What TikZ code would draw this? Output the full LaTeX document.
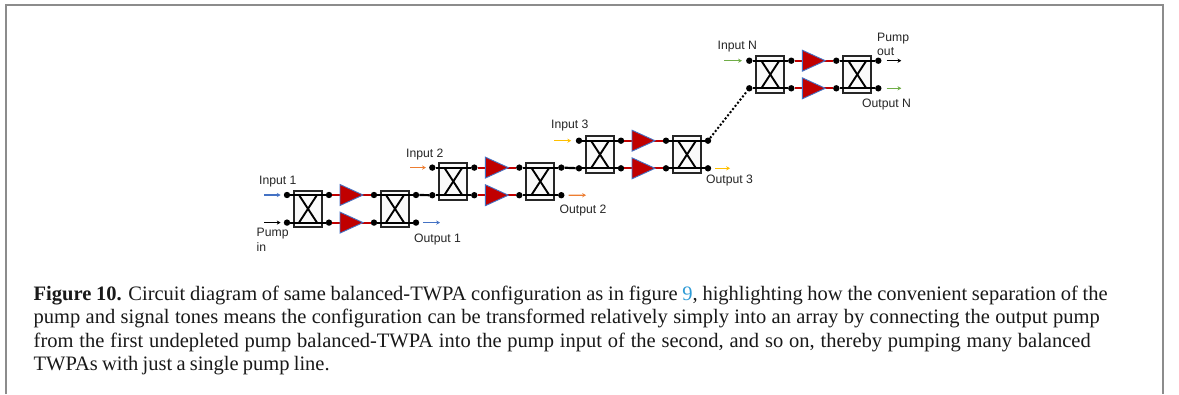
\documentclass[tikz,border=0pt]{standalone}
\usepackage{fontspec}
\setmainfont{Liberation Sans}
\newfontfamily\capfont{Liberation Serif}
\usetikzlibrary{arrows.meta,calc}
\definecolor{sigblue}{HTML}{4472C4}
\definecolor{sigorange}{HTML}{ED7D31}
\definecolor{sigyellow}{HTML}{FFC000}
\definecolor{siggreen}{HTML}{70AD47}
\definecolor{ampred}{HTML}{C00000}
\definecolor{linkblue}{HTML}{2E9BD6}
\tikzset{
  dotnode/.style={circle,fill=black,inner sep=0pt,minimum size=6.4pt},
  wire/.style={line width=2.2pt,black},
  xwire/.style={line width=1.9pt,black},
  redwire/.style={line width=2.2pt,ampred},
  boxnode/.style={draw=black!85,fill=black!2,line width=2pt,minimum width=28pt,minimum height=36.6pt,inner sep=0pt},
  ampshape/.style={draw=sigblue,fill=ampred,line width=0.9pt,line join=miter},
  sigarrow/.style={line width=1.1pt,-{Stealth[length=3.8pt,width=4.2pt]}},
  lab/.style={font=\fontsize{12.2}{14.5}\selectfont,inner sep=0pt,anchor=west,text=black!85},
  capline/.style={font=\capfont\fontsize{20.5}{24}\selectfont,inner sep=0pt,anchor=base west,text=black!90},
}
% #1 prefix, #2 x of first dot, #3 y of top rail
\newcommand{\twpastage}[3]{%
  \coordinate (#1o) at (#2,#3);
  \path (#1o) ++(21,13.8) node[boxnode] (#1L) {};
  \path (#1o) ++(108,13.8) node[boxnode] (#1R) {};
  \path (#1o) node[dotnode] (#1a) {}
        ++(42,0) node[dotnode] (#1b) {}
        ++(45,0) node[dotnode] (#1c) {}
        ++(42,0) node[dotnode] (#1d) {};
  \path (#1o) ++(0,27.6) node[dotnode] (#1e) {}
        ++(42,0) node[dotnode] (#1f) {}
        ++(45,0) node[dotnode] (#1g) {}
        ++(42,0) node[dotnode] (#1h) {};
  \draw[wire] (#1a) -- (#1b);
  \draw[wire] (#1e) -- (#1f);
  \draw[wire] (#1c) -- (#1d);
  \draw[wire] (#1g) -- (#1h);
  \draw[xwire] ($(#1a)+(12,0)$) -- ($(#1f)+(-12,0)$);
  \draw[xwire] ($(#1e)+(12,0)$) -- ($(#1b)+(-12,0)$);
  \draw[xwire] ($(#1c)+(12,0)$) -- ($(#1h)+(-12,0)$);
  \draw[xwire] ($(#1g)+(12,0)$) -- ($(#1d)+(-12,0)$);
  \draw[redwire] (#1b) -- (#1c);
  \draw[redwire] (#1f) -- (#1g);
  \path (#1o) ++(53,-10.5) coordinate (#1p1) ++(0,21) coordinate (#1p2) ++(23,-10.5) coordinate (#1p3);
  \path (#1o) ++(53,17.1) coordinate (#1q1) ++(0,21) coordinate (#1q2) ++(23,-10.5) coordinate (#1q3);
  \draw[ampshape] (#1p1) -- (#1p2) -- (#1p3) -- cycle;
  \draw[ampshape] (#1q1) -- (#1q2) -- (#1q3) -- cycle;
}
\begin{document}
\begin{tikzpicture}[x=1pt,y=-1pt]
\useasboundingbox (0,0) rectangle (1179,394);
\fill[white] (0,0) rectangle (1179,394);
\draw[black!45,line width=2pt] (6,394) -- (6,5) -- (1163,5) -- (1163,394);

\twpastage{A}{287}{195}
\twpastage{B}{432.3}{167.6}
\twpastage{C}{579}{140.7}
\twpastage{N}{749.3}{60.7}

\draw[wire] (Ad) -- (Be);
\draw[wire] (Bd) -- (Ce);
\draw[line width=2pt,dotted] (Cd) -- (Ne);

% input arrows
\coordinate (i1) at (264,195);   \draw[sigarrow,sigblue,shorten >=3pt] (i1) -- (Aa);
\coordinate (ip) at (264,222.6); \draw[sigarrow,black,shorten >=3pt] (ip) -- (Ae);
\coordinate (i2) at (410,167.6); \draw[sigarrow,sigorange,shorten >=3pt] (i2) -- (Ba);
\coordinate (i3) at (554,140.7); \draw[sigarrow,sigyellow,shorten >=4.5pt] (i3) -- (Ca);
\coordinate (iN) at (724,60.7);  \draw[sigarrow,siggreen,shorten >=4pt] (iN) -- (Na);
% output arrows
\coordinate (o1) at (440,222.6); \draw[sigarrow,sigblue,shorten <=3.5pt] (Ah) -- (o1);
\coordinate (o2) at (586,195.2); \draw[sigarrow,sigorange,shorten <=4pt] (Bh) -- (o2);
\coordinate (o3) at (730,168.3); \draw[sigarrow,sigyellow,shorten <=4pt] (Ch) -- (o3);
\coordinate (oP) at (901.3,60.7);\draw[sigarrow,black,shorten <=5pt] (Nd) -- (oP);
\coordinate (oN) at (901.3,88.3);\draw[sigarrow,siggreen,shorten <=5pt] (Nh) -- (oN);

% labels
\node[lab] (tI1) at (259,181.7) {Input 1};
\node[lab,align=left,font=\fontsize{12.2}{14.7}\selectfont] (tP) at (256.5,240) {Pump\\in};
\node[lab] (tO1) at (414,240) {Output 1};
\node[lab] (tI2) at (406,154.7) {Input 2};
\node[lab] (tO2) at (559.5,211) {Output 2};
\node[lab] (tI3) at (551,125.5) {Input 3};
\node[lab] (tO3) at (706,181) {Output 3};
\node[lab] (tIN) at (717.5,46.5) {Input N};
\node[lab,align=left,font=\fontsize{12.2}{14.7}\selectfont] (tPo) at (877,44.5) {Pump\\out};
\node[lab] (tON) at (862,105) {Output N};

% caption
\node[capline] (c1) at (33.5,300) {\makebox[1074pt][s]{\textbf{Figure 10.} Circuit diagram of same balanced-TWPA configuration as in figure \textcolor{linkblue}{9}, highlighting how the convenient separation of the}};
\node[capline] (c2) at (33.5,323.5) {\makebox[1066pt][s]{pump and signal tones means the configuration can be transformed relatively simply into an array by connecting the output pump}};
\node[capline] (c3) at (33.5,347) {\makebox[1057pt][s]{from the first undepleted pump balanced-TWPA into the pump input of the second, and so on, thereby pumping many balanced}};
\node[capline] (c4) at (33.5,370.7) {\makebox[296pt][s]{TWPAs with just a single pump line.}};
\end{tikzpicture}
\end{document}
